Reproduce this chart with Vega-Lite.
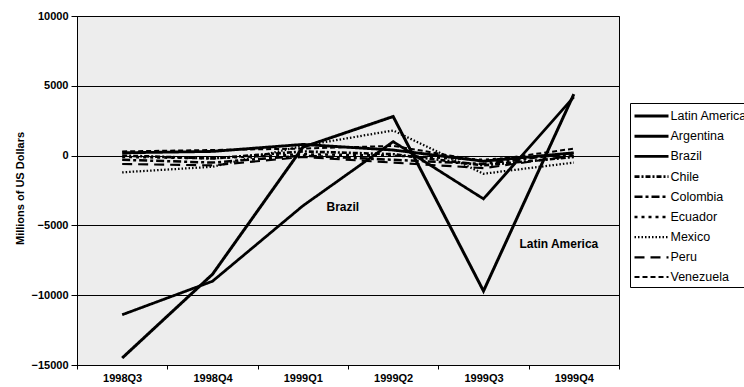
{
  "$schema": "https://vega.github.io/schema/vega-lite/v6.json",
  "autosize": "none",
  "width": 542,
  "height": 349,
  "padding": {"left": 77, "top": 16, "right": 125, "bottom": 22},
  "background": "white",
  "config": {
    "font": "Liberation Sans",
    "view": {"fill": "#ededed", "stroke": "black", "strokeWidth": 1}
  },
  "datasets": {
    "flows": [
      {"q": "1998Q3", "s": "Latin America", "v": -14500},
      {"q": "1998Q4", "s": "Latin America", "v": -8500},
      {"q": "1999Q1", "s": "Latin America", "v": 600},
      {"q": "1999Q2", "s": "Latin America", "v": 2800},
      {"q": "1999Q3", "s": "Latin America", "v": -9700},
      {"q": "1999Q4", "s": "Latin America", "v": 4400},
      {"q": "1998Q3", "s": "Argentina", "v": 200},
      {"q": "1998Q4", "s": "Argentina", "v": 300},
      {"q": "1999Q1", "s": "Argentina", "v": 800},
      {"q": "1999Q2", "s": "Argentina", "v": 400},
      {"q": "1999Q3", "s": "Argentina", "v": -400},
      {"q": "1999Q4", "s": "Argentina", "v": 200},
      {"q": "1998Q3", "s": "Brazil", "v": -11400},
      {"q": "1998Q4", "s": "Brazil", "v": -9000},
      {"q": "1999Q1", "s": "Brazil", "v": -3600},
      {"q": "1999Q2", "s": "Brazil", "v": 1000},
      {"q": "1999Q3", "s": "Brazil", "v": -3100},
      {"q": "1999Q4", "s": "Brazil", "v": 4200},
      {"q": "1998Q3", "s": "Chile", "v": 0},
      {"q": "1998Q4", "s": "Chile", "v": -200},
      {"q": "1999Q1", "s": "Chile", "v": 300},
      {"q": "1999Q2", "s": "Chile", "v": 100},
      {"q": "1999Q3", "s": "Chile", "v": -700},
      {"q": "1999Q4", "s": "Chile", "v": -100},
      {"q": "1998Q3", "s": "Colombia", "v": -300},
      {"q": "1998Q4", "s": "Colombia", "v": -500},
      {"q": "1999Q1", "s": "Colombia", "v": 0},
      {"q": "1999Q2", "s": "Colombia", "v": -300},
      {"q": "1999Q3", "s": "Colombia", "v": -600},
      {"q": "1999Q4", "s": "Colombia", "v": 200},
      {"q": "1998Q3", "s": "Ecuador", "v": -100},
      {"q": "1998Q4", "s": "Ecuador", "v": -200},
      {"q": "1999Q1", "s": "Ecuador", "v": 100},
      {"q": "1999Q2", "s": "Ecuador", "v": 0},
      {"q": "1999Q3", "s": "Ecuador", "v": -300},
      {"q": "1999Q4", "s": "Ecuador", "v": 100},
      {"q": "1998Q3", "s": "Mexico", "v": -1200},
      {"q": "1998Q4", "s": "Mexico", "v": -800},
      {"q": "1999Q1", "s": "Mexico", "v": 700},
      {"q": "1999Q2", "s": "Mexico", "v": 1800},
      {"q": "1999Q3", "s": "Mexico", "v": -1300},
      {"q": "1999Q4", "s": "Mexico", "v": -500},
      {"q": "1998Q3", "s": "Peru", "v": -600},
      {"q": "1998Q4", "s": "Peru", "v": -700},
      {"q": "1999Q1", "s": "Peru", "v": -100},
      {"q": "1999Q2", "s": "Peru", "v": -500},
      {"q": "1999Q3", "s": "Peru", "v": -900},
      {"q": "1999Q4", "s": "Peru", "v": 0},
      {"q": "1998Q3", "s": "Venezuela", "v": 300},
      {"q": "1998Q4", "s": "Venezuela", "v": 400},
      {"q": "1999Q1", "s": "Venezuela", "v": 500},
      {"q": "1999Q2", "s": "Venezuela", "v": 700},
      {"q": "1999Q3", "s": "Venezuela", "v": -400},
      {"q": "1999Q4", "s": "Venezuela", "v": 500}
    ],
    "labels": [
      {"q": "1999Q1", "v": -3700, "label": "Brazil"},
      {"q": "1999Q4", "v": -6300, "label": "Latin America"}
    ]
  },
  "encoding": {
    "x": {
      "field": "q", "type": "ordinal",
      "scale": {"type": "band", "paddingInner": 0, "paddingOuter": 0},
      "axis": {
        "title": null, "labelAngle": 0, "tickBand": "extent",
        "labelFont": "Liberation Sans", "labelFontWeight": "bold", "labelFontSize": 11,
        "labelColor": "black", "domainColor": "black", "tickColor": "black",
        "tickSize": 4, "labelPadding": 3, "grid": false
      }
    },
    "y": {
      "field": "v", "type": "quantitative",
      "scale": {"domain": [-15000, 10000], "nice": false, "zero": false},
      "axis": {
        "values": [-15000, -10000, -5000, 0, 5000, 10000],
        "format": "d",
        "title": "Millions of US Dollars",
        "titleFont": "Liberation Sans", "titleFontWeight": "bold", "titleFontSize": 11,
        "titleColor": "black", "titleX": -57, "titleY": 172, "titleAngle": -90,
        "titleBaseline": "middle", "titleAlign": "center",
        "labelFont": "Liberation Sans", "labelFontWeight": "bold", "labelFontSize": 11,
        "labelColor": "black", "domainColor": "black", "tickColor": "black",
        "tickSize": 6, "labelPadding": 3,
        "grid": true, "gridColor": "black", "gridOpacity": 1, "gridWidth": 1
      }
    }
  },
  "layer": [
    {
      "data": {"name": "flows"},
      "mark": {"type": "line", "color": "black", "strokeCap": "butt"},
      "encoding": {
        "detail": {"field": "s", "type": "nominal"},
        "strokeDash": {
          "field": "s", "type": "nominal",
          "scale": {
            "domain": ["Latin America", "Argentina", "Brazil", "Chile", "Colombia", "Ecuador", "Mexico", "Peru", "Venezuela"],
            "range": [[1, 0], [1, 0], [1, 0], [5, 2, 2, 2], [8, 3, 3, 3], [3, 4], [1.5, 2], [10, 6], [5, 3]]
          },
          "legend": {
            "title": null, "orient": "none", "legendX": 553, "legendY": 87,
            "symbolType": "M-1,0H3", "symbolSize": 289, "symbolStrokeColor": "black",
            "labelFont": "Liberation Sans", "labelFontSize": 12.5, "labelColor": "black",
            "strokeColor": "black", "fillColor": "white", "padding": 3,
            "rowPadding": 3.2, "labelOffset": 17.5, "labelLimit": 200
          }
        },
        "strokeWidth": {
          "field": "s", "type": "nominal",
          "scale": {
            "domain": ["Latin America", "Argentina", "Brazil", "Chile", "Colombia", "Ecuador", "Mexico", "Peru", "Venezuela"],
            "range": [3, 2, 3, 2, 2, 2.5, 1.5, 2.5, 1.5]
          },
          "legend": {
            "title": null, "orient": "none", "legendX": 553, "legendY": 87,
            "symbolType": "M-1,0H3", "symbolSize": 289, "symbolStrokeColor": "black",
            "labelFont": "Liberation Sans", "labelFontSize": 12.5, "labelColor": "black",
            "strokeColor": "black", "fillColor": "white", "padding": 3,
            "rowPadding": 3.2, "labelOffset": 17.5, "labelLimit": 200
          }
        }
      }
    },
    {
      "data": {"name": "labels"},
      "transform": [{"filter": "datum.label === 'Brazil'"}],
      "mark": {"type": "text", "font": "Liberation Sans", "fontWeight": "bold", "fontSize": 12, "color": "black", "align": "center", "baseline": "middle", "dx": 40},
      "encoding": {"text": {"field": "label"}}
    },
    {
      "data": {"name": "labels"},
      "transform": [{"filter": "datum.label === 'Latin America'"}],
      "mark": {"type": "text", "font": "Liberation Sans", "fontWeight": "bold", "fontSize": 12, "color": "black", "align": "center", "baseline": "middle", "dx": -15},
      "encoding": {"text": {"field": "label"}}
    }
  ]
}
